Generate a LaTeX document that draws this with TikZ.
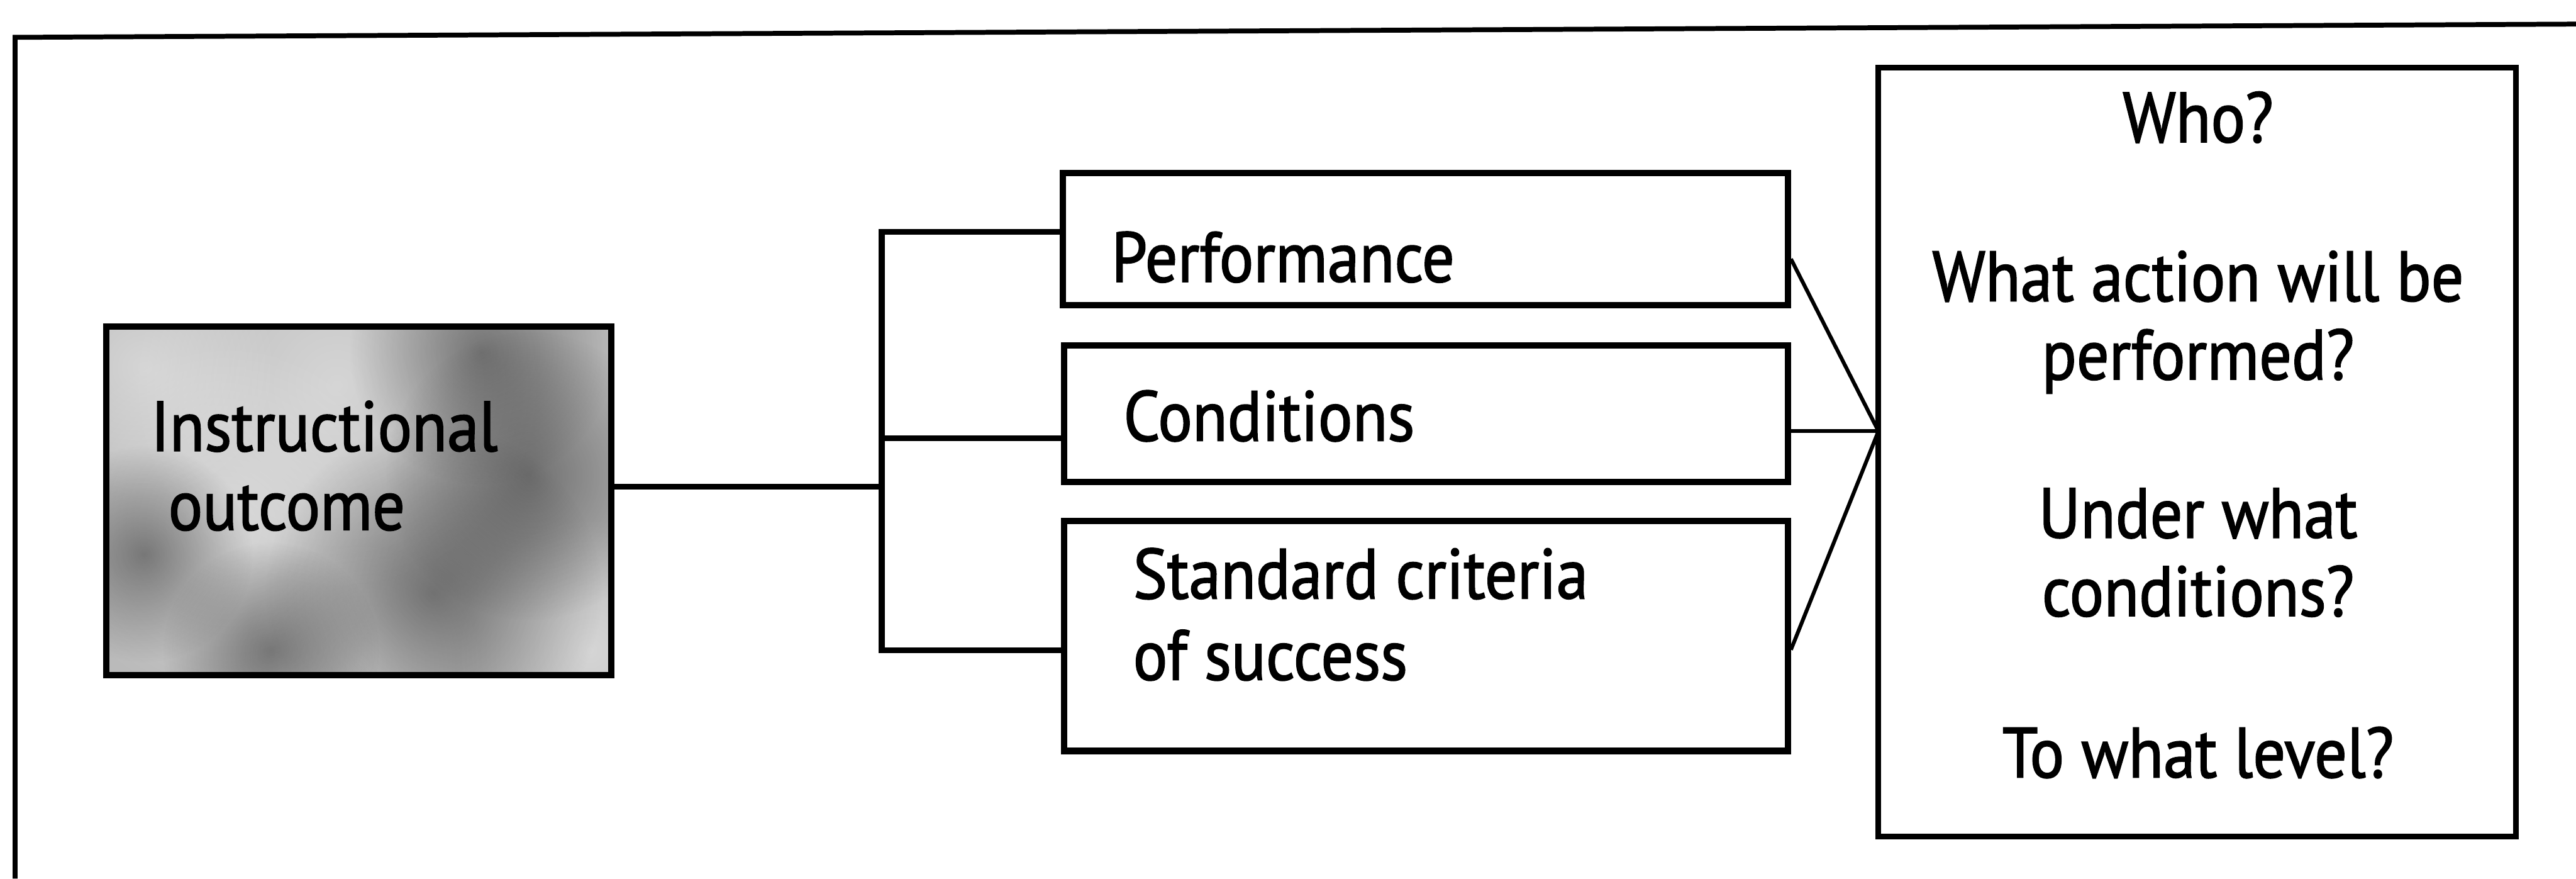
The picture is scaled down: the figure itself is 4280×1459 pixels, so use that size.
\documentclass[tikz,border=0pt]{standalone}
\usepackage{fontspec}
\setmainfont{PT Sans}[FakeStretch=0.905, FakeBold=1.6]
\usetikzlibrary{calc,fadings}
\tikzfading[name=softblob, inner color=transparent!0, outer color=transparent!100]
\tikzset{
  box/.style={draw, rectangle, line width=3pt, inner sep=0pt},
  bigbox/.style={draw, rectangle, line width=2.6pt, inner sep=0pt},
  wire/.style={line width=2.8pt},
  fan/.style={line width=1.8pt},
  lbl/.style={inner sep=0pt, font=\fontsize{33.5}{38}\selectfont},
  darkblob/.style={fill=black, opacity=0.4, path fading=softblob},
  lightblob/.style={fill=white, opacity=0.4, path fading=softblob},
}
\begin{document}
\begin{tikzpicture}[x=0.01cm, y=-0.01cm]
\useasboundingbox (0,0) rectangle (4280,1459);
\fill[white] (0,0) rectangle (4280,1459);

% open outer frame
\draw[line width=2.3pt] (25,1459) -- (25,62) -- (4280,40);

% mottled grey fill of the outcome box
\begin{scope}
  \clip (177,542) rectangle (1015,1121);
  \fill[black!27] (177,542) rectangle (1015,1121);
  \fill[lightblob] (560,640) circle (3.4cm);
  \fill[lightblob] (380,870) circle (3.0cm);
  \fill[lightblob] (980,1080) circle (2.2cm);
  \fill[lightblob] (240,610) circle (2.2cm);
  \fill[lightblob] (600,1100) circle (2.0cm);
  \fill[darkblob] (800,585) circle (2.2cm);
  \fill[darkblob] (880,790) circle (2.4cm);
  \fill[darkblob] (720,985) circle (2.8cm);
  \fill[darkblob] (240,920) circle (1.8cm);
  \fill[darkblob] (450,1080) circle (1.8cm);
\end{scope}

% boxes
\node[box, minimum width=8.38cm, minimum height=5.79cm] (outcome) at (596,831.5) {};
\node[box, minimum width=12.04cm, minimum height=2.20cm] (perf) at (2368,397) {};
\node[box, minimum width=12.02cm, minimum height=2.26cm] (cond) at (2369,687) {};
\node[box, minimum width=12.02cm, minimum height=3.82cm] (std) at (2369,1056) {};
\node[bigbox, minimum width=10.59cm, minimum height=12.76cm] (right) at (3650.5,751) {};

% labels
\node[lbl, anchor=base west] (tinstr) at (250,749) {Instructional};
\node[lbl, anchor=base west] (tout) at (279,880) {outcome};
\node[lbl, anchor=base west] (tperf) at (1846,468) {Performance};
\node[lbl, anchor=base west] (tcond) at (1866,732) {Conditions};
\node[lbl, anchor=base west] (tstdA) at (1882,994) {Standard criteria};
\node[lbl, anchor=base west] (tstdB) at (1882,1129) {of success};

\node[lbl, anchor=base] (qa) at (3652,236) {Who?};
\node[lbl, anchor=base] (qb) at (3652,500) {What action will be};
\node[lbl, anchor=base] (qc) at (3652,630) {performed?};
\node[lbl, anchor=base] (qd) at (3652,893) {Under what};
\node[lbl, anchor=base] (qe) at (3652,1023) {conditions?};
\node[lbl, anchor=base] (qf) at (3652,1291) {To what level?};

% branching connectors
\coordinate (j0) at (1465,808);
\coordinate (j1) at (1465,385);
\coordinate (j2) at (1465,728);
\coordinate (j3) at (1465,1080);
\coordinate (hub) at (3121,716);

\draw[wire] (outcome.east |- j0) -- (j0);
\draw[wire] (perf.west |- j1) -- (j1) -- (j3) -- (std.west |- j3);
\draw[wire] (j2) -- (cond.west |- j2);

% fan into the question box
\draw[fan] ($(perf.east)+(0,33)$) -- (hub);
\draw[fan] (cond.east |- hub) -- (hub);
\draw[fan] ($(std.east)+(0,23)$) -- (hub);
\end{tikzpicture}
\end{document}
